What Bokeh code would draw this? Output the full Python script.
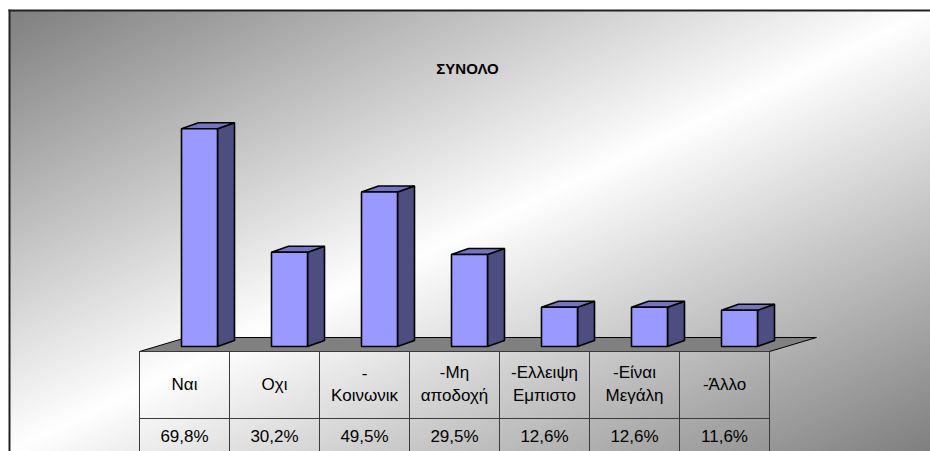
import numpy as np
from bokeh.plotting import figure
from bokeh.models import Range1d
from bokeh.core.properties import value
from bokeh.embed import file_html
from bokeh.resources import INLINE

# ---------------- data ----------------
title_text = "ΣΥΝΟΛΟ"
labels_top = ["Ναι", "Οχι", "-", "-Μη", "-Ελλειψη", "-Είναι", "-Άλλο"]
labels_bottom = ["", "", "Κοινωνικ", "αποδοχή", "Εμπιστο", "Μεγάλη", ""]
values = [69.8, 30.2, 49.5, 29.5, 12.6, 12.6, 11.6]
value_labels = ["69,8%", "30,2%", "49,5%", "29,5%", "12,6%", "12,6%", "11,6%"]

# ---------------- layout (styling) ----------------
W, H = 930, 451
PX_X = 90.0      # pixels per category column
PX_Y = 3.12      # pixels per percent
COL0 = 184.0     # page x of first column centre
BASE = 346.0     # page y of the bar base

def gx(page_x):
    return (page_x - COL0) / PX_X

def gy(page_y):
    return (BASE - page_y) / PX_Y

def dx(px):
    return px / PX_X

def dy(px):
    return px / PX_Y

x_start, x_end = gx(0), gx(W)
y_start, y_end = gy(H), gy(0)

p = figure(width=W, height=H, output_backend="svg", toolbar_location=None,
           x_range=Range1d(x_start, x_end), y_range=Range1d(y_start, y_end),
           x_axis_location=None, y_axis_location=None, min_border=0,
           background_fill_color="white", border_fill_color="white")
p.grid.visible = False
p.outline_line_color = None

# ---------------- gradient background (chart area from page (9,10)) ----------------
CX0, CY0 = 9, 10
gh, gw = 221, 461
u = np.linspace(0, 1, gw)[None, :]
vtop = np.linspace(1, 0, gh)[:, None]   # row 0 = bottom
t = (u + vtop) / 2.0
g = (255 - (255 - 128) * np.abs(2 * t - 1)).astype(np.uint8)
img = np.empty((gh, gw), dtype=np.uint32)
view = img.view(dtype=np.uint8).reshape((gh, gw, 4))
view[:, :, 0] = g
view[:, :, 1] = g
view[:, :, 2] = g
view[:, :, 3] = 255
p.image_rgba(image=[img], x=gx(CX0), y=y_start, dw=x_end - gx(CX0), dh=gy(CY0) - y_start)

# ---------------- floor ----------------
n = len(values)
yf, yb = gy(351), gy(337)
fdx = dx(47)
p.patch([-0.5, n - 0.5, n - 0.5 + fdx, -0.5 + fdx], [yf, yf, yb, yb],
        fill_color="#808080", line_color="black", line_width=1)

# ---------------- 3D bars ----------------
off = dx(15)
hw = dx(18)
ddx, ddy = dx(17), dy(6)
cx = [i + off for i in range(n)]
front_l = [c - hw for c in cx]
front_r = [c + hw for c in cx]
side_xs = [[r, r + ddx, r + ddx, r] for r in front_r]
side_ys = [[0, ddy, v + ddy, v] for v in values]
top_xs = [[l, r, r + ddx, l + ddx] for l, r in zip(front_l, front_r)]
top_ys = [[v, v, v + ddy, v + ddy] for v in values]

p.patches(side_xs, side_ys, fill_color="#4d4d80", line_color="black", line_width=1.6)
p.patches(top_xs, top_ys, fill_color="#7474c2", line_color="black", line_width=1.6)
p.quad(left=front_l, right=front_r, bottom=0, top=values,
       fill_color="#9999ff", line_color="black", line_width=1.6)

# ---------------- data table ----------------
tbl_color = "#3a3a3a"
p.segment(x0=[-0.5] * 2, x1=[n - 0.5] * 2, y0=[gy(351), gy(418)], y1=[gy(351), gy(418)],
          line_color=tbl_color, line_width=1)
p.segment(x0=[k - 0.5 for k in range(n + 1)], x1=[k - 0.5 for k in range(n + 1)],
          y0=[gy(351)] * (n + 1), y1=[y_start] * (n + 1), line_color=tbl_color, line_width=1)

single_x = [i for i in range(n) if labels_bottom[i] == ""]
double_x = [i for i in range(n) if labels_bottom[i] != ""]
font = value("Liberation Sans")
fs = "17px"
p.text(x=single_x, y=[gy(384)] * len(single_x), text=[labels_top[i] for i in single_x],
       text_font=font, text_font_size=fs, text_align="center", text_baseline="middle",
       text_color="black")
p.text(x=double_x, y=[gy(372)] * len(double_x), text=[labels_top[i] for i in double_x],
       text_font=font, text_font_size=fs, text_align="center", text_baseline="middle",
       text_color="black")
p.text(x=double_x, y=[gy(395)] * len(double_x), text=[labels_bottom[i] for i in double_x],
       text_font=font, text_font_size=fs, text_align="center", text_baseline="middle",
       text_color="black")
p.text(x=list(range(n)), y=[gy(436)] * n, text=value_labels,
       text_font=font, text_font_size=fs, text_align="center", text_baseline="middle",
       text_color="black")

# ---------------- title ----------------
p.text(x=[gx(467)], y=[gy(68)], text=[title_text], text_font=font, text_font_size="15px",
       text_font_style="bold", text_align="center", text_baseline="middle", text_color="black")

# ---------------- chart border (top / left) ----------------
p.segment(x0=[gx(8), gx(9)], y0=[gy(10), gy(9)], x1=[x_end, gx(9)], y1=[gy(10), y_start],
          line_color="#222222", line_width=2)

open("out.html", "w").write(file_html(p, INLINE))
